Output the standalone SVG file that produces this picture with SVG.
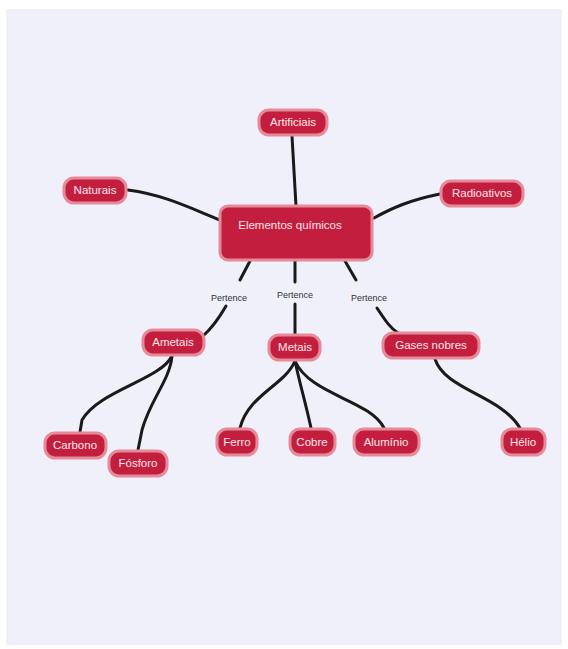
<svg xmlns="http://www.w3.org/2000/svg" width="568" height="649" viewBox="0 0 568 649">
<style>
.n rect{fill:#c41e3f;stroke:#e58a98;stroke-width:3}
.n text{fill:#fbe6ea;font-family:"Liberation Sans",Arial,sans-serif;font-size:11.5px;text-anchor:middle}
.c path{fill:none;stroke:#1a1a1a;stroke-width:3;stroke-linecap:round}
.l{fill:#333;font-family:"Liberation Sans",Arial,sans-serif;font-size:9px;text-anchor:middle}
</style>
<rect width="568" height="649" fill="#ffffff"/>
<rect x="6" y="9" width="556" height="636" fill="#f0f0fa"/>
<g id="connectors" class="c">
<path d="M292 136 L296 206"/>
<path d="M128 190 C165 195 190 208 220 220"/>
<path d="M440 194 C410 200 392 208 374 218"/>
<path d="M250 261 L240 280"/>
<path d="M226 306 C218 320 212 328 203 336"/>
<path d="M295 261 L295 282"/>
<path d="M295 304 L295 335"/>
<path d="M345 261 L356 280"/>
<path d="M377 308 C385 320 390 328 398 333"/>
<path d="M172 356 C160 380 100 390 82 420 L80 432"/>
<path d="M172 356 C170 380 150 400 142 430 L138 450"/>
<path d="M295 361 C285 385 248 395 240 428"/>
<path d="M295 361 C300 385 305 400 311 428"/>
<path d="M295 361 C310 395 370 400 384 428"/>
<path d="M435 359 C445 390 500 395 520 428"/>
</g>
<text class="l" x="229" y="301">Pertence</text>
<text class="l" x="295" y="298">Pertence</text>
<text class="l" x="369" y="301">Pertence</text>
<g id="elementos" class="n"><rect x="220" y="206" width="152" height="54" rx="8"/><text x="290" y="229">Elementos químicos</text></g>
<g id="artificiais" class="n"><rect x="259" y="110" width="68" height="25" rx="10"/><text x="293" y="126">Artificiais</text></g>
<g id="naturais" class="n"><rect x="64" y="178" width="62" height="25" rx="10"/><text x="95" y="194">Naturais</text></g>
<g id="radioativos" class="n"><rect x="441" y="181" width="82" height="25" rx="10"/><text x="482" y="197">Radioativos</text></g>
<g id="ametais" class="n"><rect x="143" y="330" width="61" height="25" rx="10"/><text x="173" y="346">Ametais</text></g>
<g id="metais" class="n"><rect x="269" y="335" width="51" height="25" rx="10"/><text x="295" y="351">Metais</text></g>
<g id="gases" class="n"><rect x="383" y="333" width="96" height="25" rx="10"/><text x="431" y="349">Gases nobres</text></g>
<g id="carbono" class="n"><rect x="45" y="433" width="61" height="25" rx="10"/><text x="75" y="449">Carbono</text></g>
<g id="fosforo" class="n"><rect x="109" y="451" width="58" height="25" rx="10"/><text x="138" y="467">Fósforo</text></g>
<g id="ferro" class="n"><rect x="217" y="429" width="40" height="26" rx="10"/><text x="237" y="446">Ferro</text></g>
<g id="cobre" class="n"><rect x="290" y="429" width="45" height="26" rx="10"/><text x="312" y="446">Cobre</text></g>
<g id="aluminio" class="n"><rect x="354" y="429" width="65" height="26" rx="10"/><text x="386" y="446">Alumínio</text></g>
<g id="helio" class="n"><rect x="502" y="429" width="43" height="26" rx="10"/><text x="523" y="446">Hélio</text></g>
</svg>
